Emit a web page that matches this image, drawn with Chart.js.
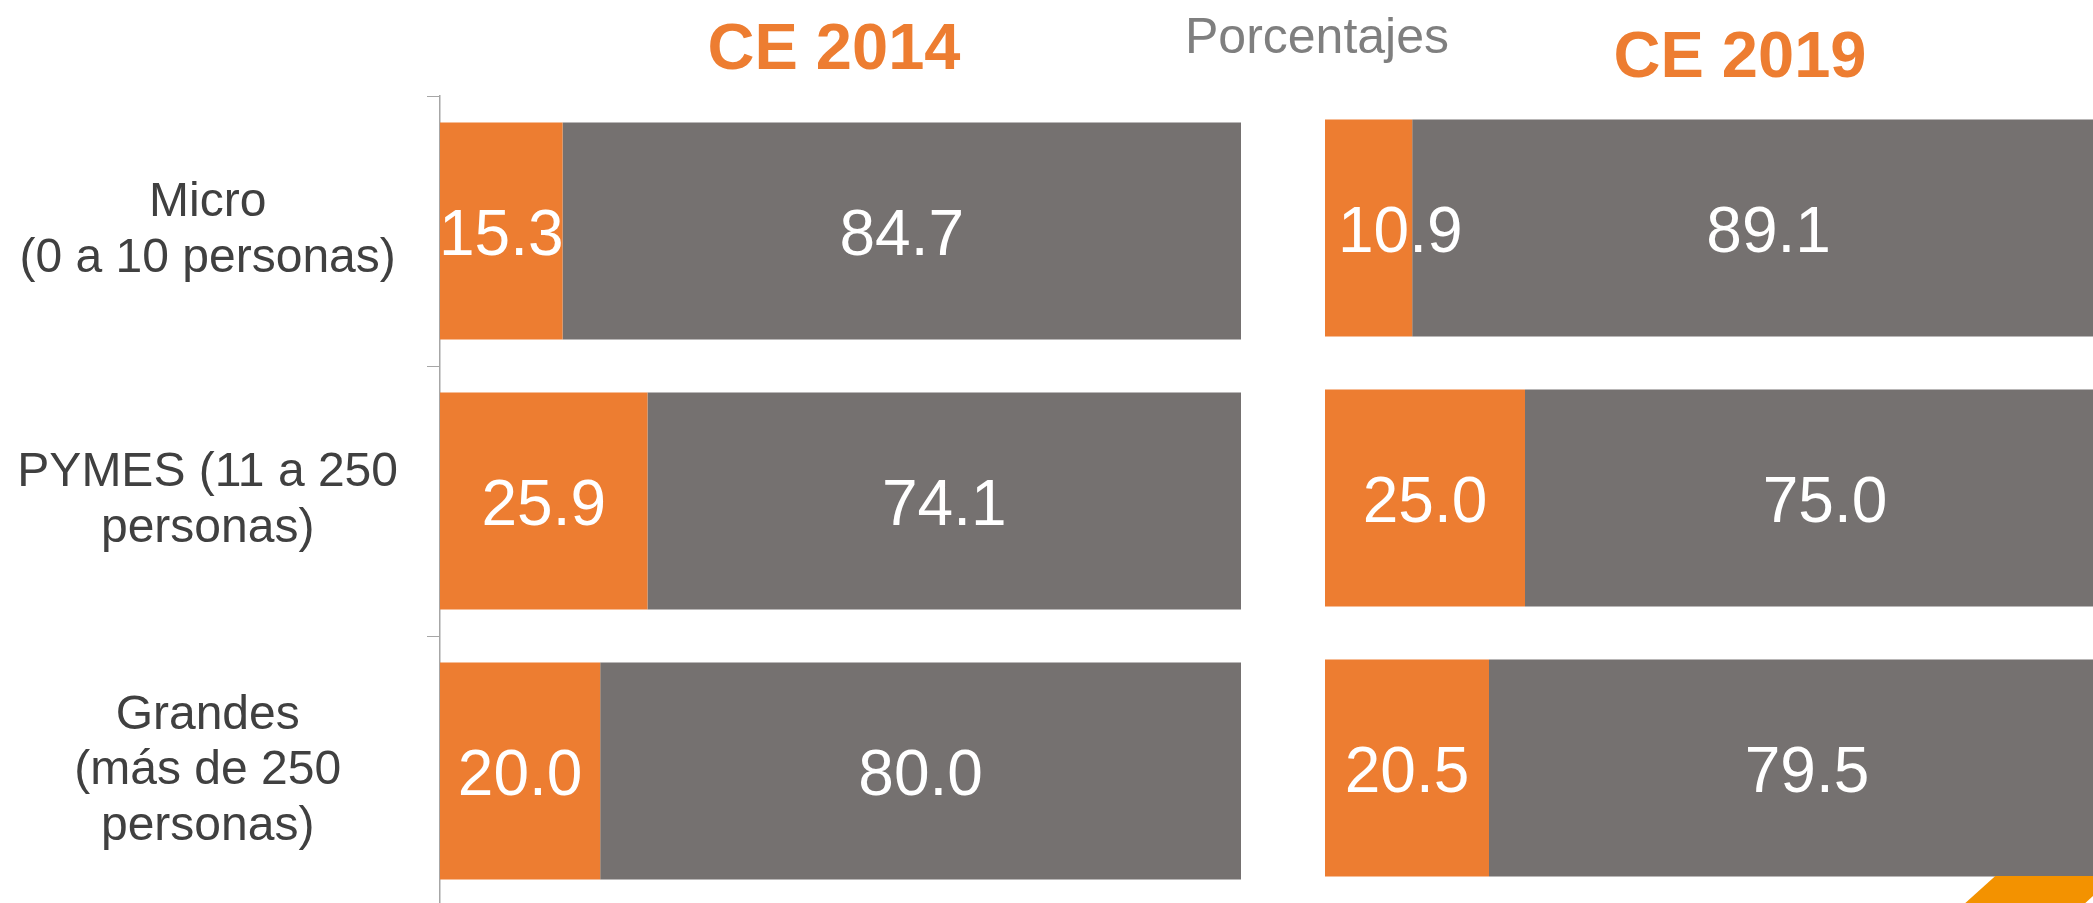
<!DOCTYPE html>
<html>
<head>
<meta charset="utf-8">
<script src="https://cdn.jsdelivr.net/npm/chart.js@4"></script>
<style>
    html, body { margin: 0; padding: 0; background: #ffffff; overflow: hidden; }
    body { width: 2093px; height: 903px; position: relative; font-family: 'Liberation Sans', Arial, sans-serif; }
    .titulo { position: absolute; text-align: center; white-space: nowrap; }
    .ce { color: #ed7d31; font-weight: bold; font-size: 65px; line-height: 65px; width: 400px; }
    #porcentajes { color: #7f7f7f; font-size: 50px; line-height: 50px; width: 400px; left: 1117px; top: 11px; }
    #chart2014 { position: absolute; left: 0; top: 0; }
    #chart2019 { position: absolute; left: 1325px; top: 0; }
    #esquina { position: absolute; left: 1962px; top: 876px; width: 120px; height: 60px; background: #f39200; transform: skewX(-48deg); }
</style>
</head>
<body>

<div class="titulo ce" style="left: 634px; top: 14px;">CE 2014</div>
<div class="titulo" id="porcentajes">Porcentajes</div>
<div class="titulo ce" style="left: 1540px; top: 22px;">CE 2019</div>

<canvas id="chart2014" width="1241" height="906"></canvas>
<canvas id="chart2019" width="800" height="903"></canvas>
<div id="esquina"></div>

<script>

var categorias = [
    ['Micro', '(0 a 10 personas)'],
    ['PYMES (11 a 250', 'personas)'],
    ['Grandes', '(más de 250', 'personas)']
];

// CE 2014
var ce2014Naranja = [15.3, 25.9, 20.0];
var ce2014Gris = [84.7, 74.1, 80.0];

// CE 2019
var ce2019Naranja = [10.9, 25.0, 20.5];
var ce2019Gris = [89.1, 75.0, 79.5];

var colorNaranja = '#ed7d31';
var colorGris = '#757170';

// etiquetas blancas dentro de cada segmento
var etiquetasPlugin = {
    id: 'etiquetas',
    afterDatasetsDraw: function (chart) {
        var ctx = chart.ctx;
        ctx.save();
        ctx.font = '64px "Liberation Sans", Arial, sans-serif';
        ctx.fillStyle = '#ffffff';
        ctx.textBaseline = 'middle';
        chart.data.datasets.forEach(function (ds, i) {
            var meta = chart.getDatasetMeta(i);
            meta.data.forEach(function (bar, j) {
                var texto = ds.data[j].toFixed(1);
                var ancho = ctx.measureText(texto).width;
                var izq = Math.min(bar.x, bar.base);
                var der = Math.max(bar.x, bar.base);
                // si el texto no cabe en el segmento, se pega a la izquierda
                if (ancho > der - izq + 15) {
                    ctx.textAlign = 'left';
                    ctx.fillText(texto, izq + 13, bar.y + 6);
                } else {
                    ctx.textAlign = 'center';
                    ctx.fillText(texto, (izq + der) / 2, bar.y + 6);
                }
            });
        });
        ctx.restore();
    }
};

function crearDatos(naranja, gris) {
    return {
        labels: categorias,
        datasets: [
            { data: naranja, backgroundColor: colorNaranja, categoryPercentage: 1, barPercentage: 0.804 },
            { data: gris, backgroundColor: colorGris, categoryPercentage: 1, barPercentage: 0.804 }
        ]
    };
}

var opcionesComunes = {
    indexAxis: 'y',
    responsive: false,
    animation: false,
    devicePixelRatio: 1,
    plugins: {
        legend: { display: false },
        tooltip: { enabled: false }
    }
};

var chart2014 = new Chart(document.getElementById('chart2014').getContext('2d'), {
    type: 'bar',
    data: crearDatos(ce2014Naranja, ce2014Gris),
    options: Object.assign({}, opcionesComunes, {
        layout: { padding: { top: 96, bottom: 0, left: 0, right: 0 } },
        scales: {
            x: { stacked: true, min: 0, max: 100, display: false },
            y: {
                stacked: true,
                grid: { drawOnChartArea: false, tickLength: 13, color: '#a6a6a6', offset: true },
                border: { display: true, color: '#a6a6a6', width: 1.5 },
                ticks: {
                    crossAlign: 'center',
                    padding: 29,
                    color: '#404040',
                    font: { family: "'Liberation Sans', Arial, sans-serif", size: 48, lineHeight: 1.16 }
                },
                afterFit: function (scale) {
                    scale.width = 440;
                    scale.paddingTop = 0;
                    scale.paddingBottom = 0;
                }
            }
        }
    }),
    plugins: [etiquetasPlugin]
});

var chart2019 = new Chart(document.getElementById('chart2019').getContext('2d'), {
    type: 'bar',
    data: crearDatos(ce2019Naranja, ce2019Gris),
    options: Object.assign({}, opcionesComunes, {
        layout: { padding: { top: 93, bottom: 0, left: 0, right: 0 } },
        scales: {
            x: { stacked: true, min: 0, max: 100, display: false },
            y: { stacked: true, display: false }
        }
    }),
    plugins: [etiquetasPlugin]
});

</script>
</body>
</html>
